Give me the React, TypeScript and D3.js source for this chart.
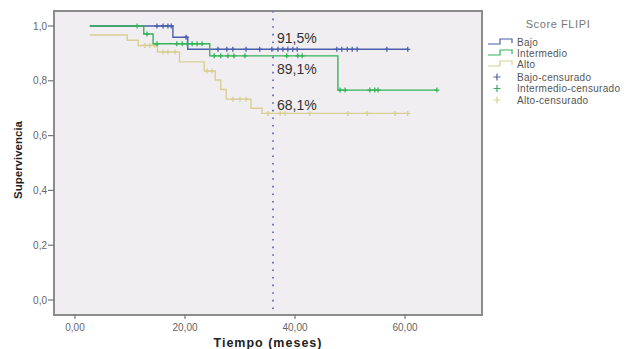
import * as d3 from 'd3';

// Kaplan-Meier curves, Score FLIPI
const timeTicks = [0, 20, 40, 60];
const survTicks = [0, 0.2, 0.4, 0.6, 0.8, 1.0];
const groupNames = ['Bajo', 'Intermedio', 'Alto'];
const censoredNames = ['Bajo-censurado', 'Intermedio-censurado', 'Alto-censurado'];

// [time, survival] where each step begins
const bajoSteps: [number, number][] = [[2.7, 1], [17.8, 0.959], [20.5, 0.915]];
const bajoEnd = 60.5;
const bajoCensored: [number, number][] = [
  [14.9, 1], [16.0, 1], [16.9, 1], [17.5, 1], [20.2, 0.959],
  [26.0, 0.915], [27.6, 0.915], [28.7, 0.915], [31.1, 0.915], [33.6, 0.915], [35.8, 0.915],
  [36.9, 0.915], [37.8, 0.915], [38.7, 0.915], [39.6, 0.915], [40.4, 0.915], [47.6, 0.915],
  [48.5, 0.915], [49.5, 0.915], [50.4, 0.915], [51.3, 0.915], [56.7, 0.915], [60.5, 0.915]
];

const intermedioSteps: [number, number][] = [[2.7, 1], [12.5, 0.971], [14.2, 0.935], [24.5, 0.891], [47.8, 0.766]];
const intermedioEnd = 65.8;
const intermedioCensored: [number, number][] = [
  [11.3, 1], [13.1, 0.971],
  [14.9, 0.935], [18.5, 0.935], [19.5, 0.935], [20.4, 0.935], [21.3, 0.935], [22.2, 0.935], [23.1, 0.935],
  [25.3, 0.891], [26.5, 0.891], [27.8, 0.891], [28.9, 0.891], [30.9, 0.891], [38.5, 0.891], [40.5, 0.891], [41.3, 0.891],
  [48.2, 0.766], [49.1, 0.766], [53.6, 0.766], [54.5, 0.766], [55.1, 0.766], [65.8, 0.766]
];

const altoSteps: [number, number][] = [
  [2.7, 0.967], [9.5, 0.948], [11.5, 0.929], [15.0, 0.905], [19.0, 0.869], [23.5, 0.836],
  [25.5, 0.803], [26.5, 0.768], [27.5, 0.733], [32.0, 0.7], [34.0, 0.681]
];
const altoEnd = 60.5;
const altoCensored: [number, number][] = [
  [12.7, 0.929], [13.6, 0.929], [14.5, 0.929],
  [16.0, 0.905], [16.9, 0.905], [18.2, 0.905],
  [24.0, 0.836], [24.9, 0.836],
  [28.7, 0.733], [30.0, 0.733], [31.1, 0.733],
  [35.1, 0.681], [37.3, 0.681], [38.2, 0.681], [42.7, 0.681], [49.6, 0.681], [53.1, 0.681], [58.2, 0.681], [60.5, 0.681]
];

const refTime = 36;
const refValues = [0.915, 0.891, 0.681];
const refLabels = ['91,5%', '89,1%', '68,1%'];

const colors = ['#4a5fab', '#35b35a', '#d8cf92'];
const font = '"Liberation Sans", Arial, sans-serif';

export default function App() {
  const width = 627;
  const height = 349;
  const plot = { left: 54, right: 482, top: 11, bottom: 315 };

  const x = d3.scaleLinear().domain([0, 60]).range([75, 405]);
  const y = d3.scaleLinear().domain([0, 1]).range([300, 26]);

  const line = d3.line<[number, number]>()
    .x((d) => x(d[0]))
    .y((d) => y(d[1]))
    .curve(d3.curveStepAfter);

  const series = [
    { steps: bajoSteps, end: bajoEnd, cens: bajoCensored },
    { steps: intermedioSteps, end: intermedioEnd, cens: intermedioCensored },
    { steps: altoSteps, end: altoEnd, cens: altoCensored }
  ];
  const drawOrder = [2, 0, 1];

  const fmtX = (v: number) => d3.format('.2f')(v).replace('.', ',');
  const fmtY = (v: number) => d3.format('.1f')(v).replace('.', ',');
  const labelOffsets = [-6, 18, -3];

  const plus = (cx: number, cy: number, r: number) => `M${cx - r},${cy}H${cx + r}M${cx},${cy - r}V${cy + r}`;

  return (
    <svg width={width} height={height} style={{ position: 'absolute', left: 0, top: 0, background: '#fff' }} fontFamily={font}>
      <rect x={plot.left} y={plot.top} width={plot.right - plot.left} height={plot.bottom - plot.top} fill="#f1eef1" stroke="#8c8c8c" strokeWidth={2} />

      {survTicks.map((t) => (
        <g key={'y' + t}>
          <line x1={plot.left - 6} x2={plot.left} y1={y(t)} y2={y(t)} stroke="#777" strokeWidth={1.2} />
          <text x={plot.left - 7} y={y(t)} dy="0.35em" textAnchor="end" fontSize={10} fill="#666">{fmtY(t)}</text>
        </g>
      ))}
      {timeTicks.map((t) => (
        <g key={'x' + t}>
          <line x1={x(t)} x2={x(t)} y1={plot.bottom} y2={plot.bottom + 4} stroke="#777" strokeWidth={1.2} />
          <text x={x(t)} y={plot.bottom + 16} textAnchor="middle" fontSize={10} fill="#666">{fmtX(t)}</text>
        </g>
      ))}

      <text x={268} y={347} textAnchor="middle" fontSize={12.5} fontWeight="bold" letterSpacing={1} fill="#222">Tiempo (meses)</text>
      <text transform={`translate(22,160) rotate(-90)`} textAnchor="middle" fontSize={11.5} fontWeight="bold" fill="#222">Supervivencia</text>

      <line x1={x(refTime)} x2={x(refTime)} y1={plot.top} y2={plot.bottom} stroke="#7077c4" strokeWidth={2} strokeDasharray="1.6,6" />

      {drawOrder.map((i) => {
        const s = series[i];
        const last = s.steps[s.steps.length - 1];
        const pts: [number, number][] = [...s.steps, [s.end, last[1]]];
        return (
          <g key={i}>
            <path d={line(pts) ?? ''} fill="none" stroke={colors[i]} strokeWidth={1.4} />
            <path d={s.cens.map((c) => plus(x(c[0]), y(c[1]), 2.5)).join('')} fill="none" stroke={colors[i]} strokeWidth={1.3} />
          </g>
        );
      })}

      {refLabels.map((l, i) => (
        <text key={l} x={x(refTime) + 4} y={y(refValues[i]) + labelOffsets[i]} fontSize={14} fill="#333">{l}</text>
      ))}

      <text x={558} y={28} textAnchor="middle" fontSize={11} letterSpacing={0.6} fill="#777">Score FLIPI</text>
      {groupNames.map((g, i) => {
        const cy = 42 + i * 11;
        return (
          <g key={g}>
            <path d={`M488,${cy + 2}H500V${cy - 3}H512V${cy + 1}`} fill="none" stroke={colors[i]} strokeWidth={1.2} />
            <text x={517} y={cy} dy="0.35em" fontSize={10} letterSpacing={0.3} fill="#555">{g}</text>
          </g>
        );
      })}
      {censoredNames.map((g, i) => {
        const cy = 77 + i * 11.5;
        return (
          <g key={g}>
            <path d={plus(497, cy, 3.5)} fill="none" stroke={colors[i]} strokeWidth={1.2} />
            <text x={517} y={cy} dy="0.35em" fontSize={10} letterSpacing={0.3} fill="#555">{g}</text>
          </g>
        );
      })}
    </svg>
  );
}
